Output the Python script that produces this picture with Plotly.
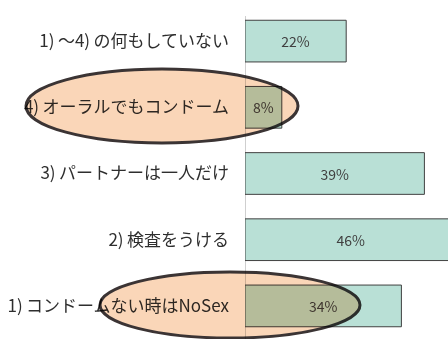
import plotly.graph_objects as go

# Survey answers, listed top to bottom as displayed
categories = [
    "1)\u2009～4)\u2009の何もしていない",
    "4)\u2009オーラルでもコンドーム",
    "3)\u2009パートナーは一人だけ",
    "2)\u2009検査をうける",
    "1)\u2009コンドームない時はNoSex",
]
percent = [22, 8, 39, 46, 34]
bar_labels = ["22%", "8%", "39%", "46%", "34%"]

W, H = 448, 339
M_L, M_R, M_T, M_B = 245, 0, 8, 0
plot_w = W - M_L - M_R
plot_h = H - M_T - M_B


def px_to_paper_x(px):
    return (px - M_L) / plot_w


def px_to_paper_y(py):
    return (H - M_B - py) / plot_h


fig = go.Figure(
    go.Bar(
        x=percent,
        y=categories,
        orientation="h",
        text=bar_labels,
        textposition="inside",
        insidetextanchor="middle",
        textangle=0,
        textfont=dict(family="Noto Sans CJK JP", size=14, color="#404040"),
        marker=dict(color="#b9e0d6", line=dict(color="#404040", width=1)),
        cliponaxis=True,
    )
)

# Highlight ellipses around two of the answers
ellipses = [
    (26, 69, 298, 143),
    (100, 272, 360, 338),
]
shapes = []
for x0, y0, x1, y1 in ellipses:
    shapes.append(
        dict(
            type="circle",
            xref="paper",
            yref="paper",
            x0=px_to_paper_x(x0),
            x1=px_to_paper_x(x1),
            y0=px_to_paper_y(y1),
            y1=px_to_paper_y(y0),
            fillcolor="#fad6b8",
            line=dict(color="#3b3434", width=3),
            layer="above",
        )
    )

# Vertical category axis line
shapes.append(
    dict(
        type="line",
        xref="x",
        yref="paper",
        x0=0,
        x1=0,
        y0=0,
        y1=px_to_paper_y(16),
        line=dict(color="#a0a0a0", width=1),
        layer="below",
    )
)

fig.update_layout(
    width=W,
    height=H,
    margin=dict(l=M_L, r=M_R, t=M_T, b=M_B),
    paper_bgcolor="white",
    plot_bgcolor="white",
    bargap=0.37,
    showlegend=False,
    shapes=shapes,
    xaxis=dict(
        range=[0, plot_w / 4.6],
        showgrid=False,
        zeroline=False,
        showline=False,
        showticklabels=False,
        fixedrange=True,
    ),
    yaxis=dict(
        autorange="reversed",
        showgrid=False,
        zeroline=False,
        showline=False,
        ticks="",
        ticklabelstandoff=15,
        tickfont=dict(family="Noto Sans CJK JP", size=17, color="#2e2e2e"),
        fixedrange=True,
    ),
)

blend_css = (
    "var s=document.createElement('style');"
    "s.textContent='.layer-above .shapelayer path{mix-blend-mode:multiply}';"
    "document.head.appendChild(s);"
)

fig.write_html("out.html", post_script=blend_css, config={"displayModeBar": False})
